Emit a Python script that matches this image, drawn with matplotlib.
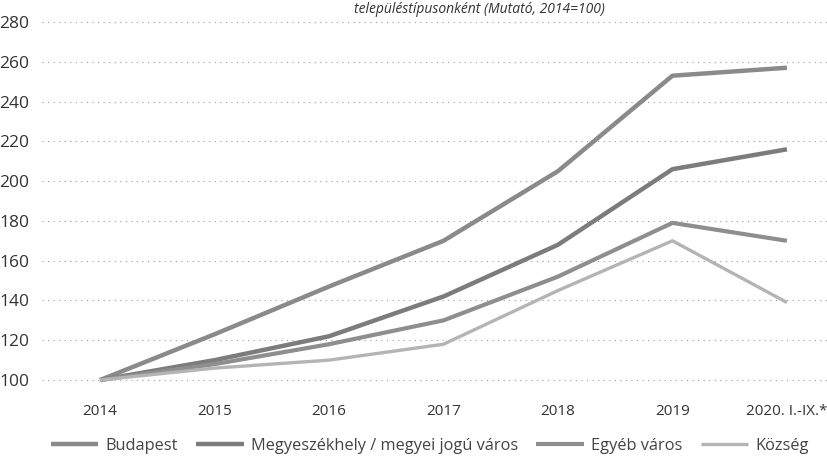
import matplotlib
matplotlib.use("Agg")
import matplotlib.pyplot as plt

categories = ["2014", "2015", "2016", "2017", "2018", "2019", "2020. I.-IX.*"]
budapest = [100, 123, 147, 170, 205, 253, 257]
megyeszekhely = [100, 110, 122, 142, 168, 206, 216]
egyeb_varos = [100, 108, 118, 130, 152, 179, 170]
kozseg = [100, 106, 110, 118, 145, 170, 139]
yticks = [100, 120, 140, 160, 180, 200, 220, 240, 260, 280]

series = [
    ("Budapest", budapest, "#8a8a8a", 3.2),
    ("Megyeszékhely / megyei jogú város", megyeszekhely, "#7c7c7c", 3.2),
    ("Egyéb város", egyeb_varos, "#8e8e8e", 3.0),
    ("Község", kozseg, "#b4b4b4", 2.4),
]

plt.rcParams['font.family'] = ['Open Sans', 'DejaVu Sans']
fig = plt.figure(figsize=(8.27, 4.63), dpi=100)
ax = fig.add_axes([42/827, 1 - 387/463, 785/827, (387 - 20)/463])

x = list(range(len(categories)))
for name, vals, col, lw in series:
    ax.plot(x, vals, color=col, lw=lw, label=name, solid_capstyle='butt')

ax.set_xlim(-0.507, 6.35)
ax.set_ylim(96.5, 281)
ax.set_yticks(yticks)
ax.set_yticklabels([str(v) for v in yticks], fontsize=12.5, color="#333333")
ax.set_xticks(x)
ax.set_xticklabels(categories, fontsize=11, color="#333333")
ax.tick_params(axis='both', length=0)
ax.tick_params(axis='y', pad=4)
ax.tick_params(axis='x', pad=12)
for lab in ax.get_yticklabels():
    lab.set_horizontalalignment('left')
    lab.set_x(-42/785 + 5/785)
ax.grid(axis='y', linestyle=(0, (1, 4)), color="#9a9a9a", lw=0.8)
ax.set_axisbelow(True)
for s in ax.spines.values():
    s.set_visible(False)

fig.text(0.58, 1.0 - 2/463, "településtípusonként (Mutató, 2014=100)", ha='center', va='top',
         fontsize=10, color="#333333", style='italic')

leg = fig.legend(loc='center', bbox_to_anchor=(0.52, 1 - 446/463), ncol=4, frameon=False,
                 fontsize=11.8, handlelength=2.9, columnspacing=1.1, handletextpad=0.45)
for t in leg.get_texts():
    t.set_color("#444444")

fig.savefig("out.png", dpi=100)
